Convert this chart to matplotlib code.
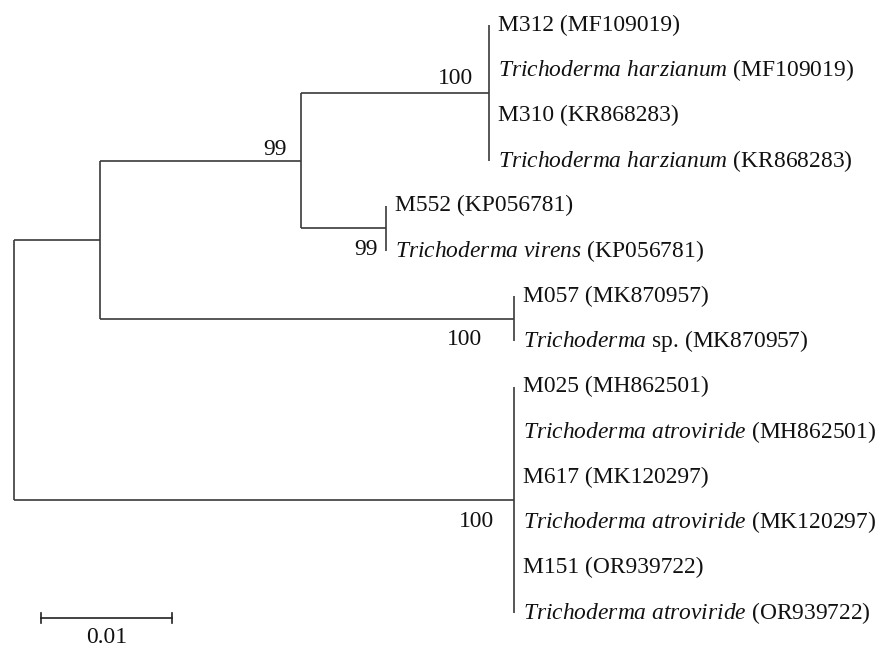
import matplotlib.pyplot as plt

plt.rcParams['font.family'] = 'Liberation Serif'
plt.rcParams['mathtext.fontset'] = 'custom'
plt.rcParams['mathtext.rm'] = 'Liberation Serif'
plt.rcParams['mathtext.it'] = 'Liberation Serif:italic'

# internal nodes of the tree: parent and branch length (substitutions/site)
nodes = ['root', 'A', 'B', 'C', 'D', 'E', 'F']
parents = [None, 'root', 'A', 'B', 'B', 'A', 'root']
lengths = [0.0, 0.00656, 0.01534, 0.01435, 0.00649, 0.0316, 0.03817]
bootstrap = [None, None, 99, 100, 99, 100, 100]

# tips in drawing order and the node each hangs from
tip_node = ['C', 'C', 'C', 'C', 'D', 'D', 'E', 'E', 'F', 'F', 'F', 'F', 'F', 'F']
tip_italic = ['', 'Trichoderma harzianum', '', 'Trichoderma harzianum',
              '', 'Trichoderma virens', '', 'Trichoderma',
              '', 'Trichoderma atroviride', '', 'Trichoderma atroviride',
              '', 'Trichoderma atroviride']
tip_plain = ['M312 (MF109019)', '(MF109019)', 'M310 (KR868283)', '(KR868283)',
             'M552 (KP056781)', '(KP056781)', 'M057 (MK870957)', 'sp. (MK870957)',
             'M025 (MH862501)', '(MH862501)', 'M617 (MK120297)', '(MK120297)',
             'M151 (OR939722)', '(OR939722)']
scale_len = 0.01

# bootstrap label offsets (points) relative to each node
boot_offset = {'B': (-10, 8), 'C': (-11, 10), 'D': (-6, -15),
               'E': (-23, -15), 'F': (-14, -16)}

# x position of each node = summed branch lengths from root
node_x = {}
for n, p, l in zip(nodes, parents, lengths):
    node_x[n] = l if p is None else node_x[p] + l

# y position: tips evenly spaced, nodes at midpoint of their children
node_y = {}
for n in reversed(nodes):
    ys = [i for i, t in enumerate(tip_node) if t == n]
    ys += [node_y[c] for c, p in zip(nodes, parents) if p == n]
    node_y[n] = (min(ys) + max(ys)) / 2
children_y = {n: [i for i, t in enumerate(tip_node) if t == n] +
              [node_y[c] for c, p in zip(nodes, parents) if p == n] for n in nodes}

fig = plt.figure(figsize=(8.83, 6.47), dpi=100)
ax = fig.add_axes([0, 0, 1, 1])
k = 0.01 / 131
ax.set_xlim(-14 * k, 869 * k)
ax.set_ylim((647 - 25) / 45.2, -25 / 45.2)
ax.axis('off')

fs = 16.9
line_kw = dict(color='#3a3a3a', lw=1.2, solid_capstyle='butt')

# horizontal branches and vertical connectors
for n, p in zip(nodes, parents):
    if p is not None:
        ax.plot([node_x[p], node_x[n]], [node_y[n], node_y[n]], **line_kw)
    ys = children_y[n]
    ax.plot([node_x[n], node_x[n]], [min(ys), max(ys)], **line_kw)

# tip labels
for i, n in enumerate(tip_node):
    if tip_italic[i]:
        label = r'$\mathit{' + tip_italic[i].replace(' ', r'\ ') + '}$ ' + tip_plain[i]
    else:
        label = tip_plain[i]
    ax.annotate(label, (node_x[n], i), xytext=(6.5, 0), textcoords='offset points',
                ha='left', va='center', fontsize=fs, color='#111111')

# bootstrap values
for n, b in zip(nodes, bootstrap):
    if b is None:
        continue
    dx, dy = boot_offset[n]
    ax.annotate(str(b), (node_x[n], node_y[n]), xytext=(dx, dy),
                textcoords='offset points', ha='right', va='center',
                fontsize=fs, color='#111111')

# scale bar
sx0 = 27 * k
sy = (618 - 25) / 45.2
ax.plot([sx0, sx0 + scale_len], [sy, sy], color='#222222', lw=1.2)
for xe in (sx0, sx0 + scale_len):
    ax.plot([xe, xe], [sy - 0.11, sy + 0.11], color='#222222', lw=1.2)
ax.annotate(str(scale_len), (sx0 + scale_len / 2, sy), xytext=(0, -14),
            textcoords='offset points', ha='center', va='center',
            fontsize=fs, color='#111111')

fig.savefig('out.png', dpi=100)
